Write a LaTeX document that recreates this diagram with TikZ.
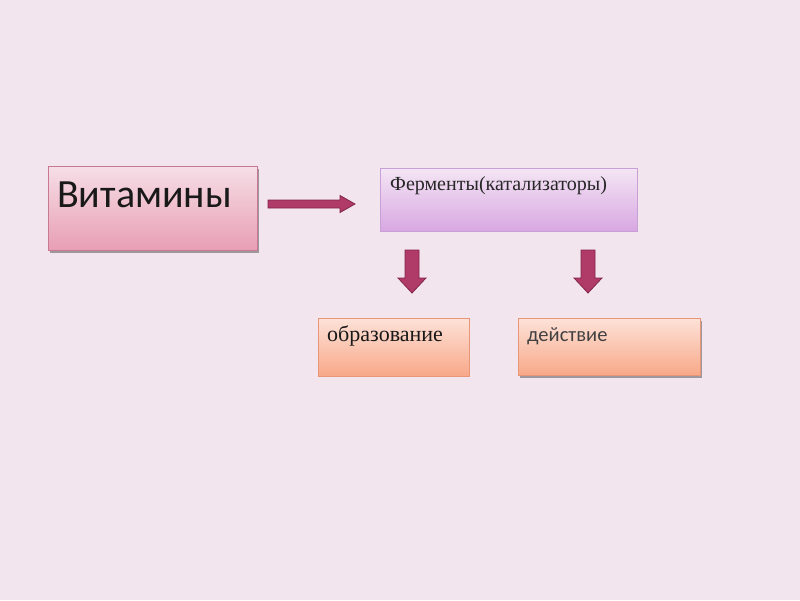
\documentclass[tikz,border=0pt]{standalone}
\usepackage{fontspec}
\setmainfont{Liberation Serif}
\newfontfamily\calib{Carlito}
\usetikzlibrary{shadows}
\definecolor{bg}{RGB}{243,229,238}
\definecolor{arrfill}{RGB}{176,58,104}
\definecolor{arrdraw}{RGB}{130,36,74}
\definecolor{vtop}{RGB}{246,222,230}
\definecolor{vbot}{RGB}{232,158,180}
\definecolor{vdraw}{RGB}{200,120,146}
\definecolor{ftop}{RGB}{244,230,244}
\definecolor{fbot}{RGB}{216,166,226}
\definecolor{fdraw}{RGB}{200,160,216}
\definecolor{otop}{RGB}{253,226,216}
\definecolor{obot}{RGB}{248,168,136}
\definecolor{odraw}{RGB}{232,150,120}
\tikzset{
  boxbase/.style={rectangle, anchor=north west, inner sep=0pt, line width=0.9pt},
  myshadow/.style={drop shadow={shadow xshift=1.5pt, shadow yshift=-3pt, fill=black!60, opacity=0.6}},
  vitbox/.style={boxbase, draw=vdraw, top color=vtop, bottom color=vbot, myshadow},
  ferbox/.style={boxbase, draw=fdraw, top color=ftop, bottom color=fbot},
  obrbox/.style={boxbase, draw=odraw, top color=otop, bottom color=obot},
  debox/.style={boxbase, draw=odraw, top color=otop, bottom color=obot, myshadow},
  fatarrow/.style={fill=arrfill, draw=arrdraw, line width=0.8pt, line join=miter},
  lbl/.style={anchor=base west, inner sep=0pt}
}
\begin{document}
\begin{tikzpicture}[x=1pt,y=-1pt]
\fill[bg] (0,0) rectangle (800,600);
\useasboundingbox (0,0) rectangle (800,600);
% boxes
\node[vitbox, minimum width=209pt, minimum height=84pt] (vit) at (48,166) {};
\node[lbl, font=\calib\fontsize{40}{44}\selectfont, text=black!90] (vitt) at (57,207) {Витамины};
\node[ferbox, minimum width=257pt, minimum height=63pt] (fer) at (380,168) {};
\node[lbl, font=\fontsize{20}{23}\selectfont, text=black!85] (fert) at (390,190) {Ферменты(катализаторы)};
\node[obrbox, minimum width=151pt, minimum height=58pt] (obr) at (318,318) {};
\node[lbl, font=\fontsize{22}{25}\selectfont, text=black!90] (obrt) at (327,341) {образование};
\node[debox, minimum width=182pt, minimum height=57pt] (de) at (518,318) {};
\node[lbl, font=\calib\fontsize{20.5}{24}\selectfont, text=black!75] (det) at (527,341) {действие};
% arrows
\coordinate (a1) at (268,200);
\draw[fatarrow] (a1) -- (340,200) -- (340,195.5) -- (355,204) -- (340,212.5) -- (340,208) -- (268,208) -- cycle;
\coordinate (d1) at (405,250);
\draw[fatarrow] (d1) -- (405,278) -- (398,278) -- (412,293) -- (426,278) -- (419,278) -- (419,250) -- cycle;
\coordinate (d2) at (581,250);
\draw[fatarrow] (d2) -- (581,278) -- (574,278) -- (588,293) -- (602,278) -- (595,278) -- (595,250) -- cycle;
\end{tikzpicture}
\end{document}
